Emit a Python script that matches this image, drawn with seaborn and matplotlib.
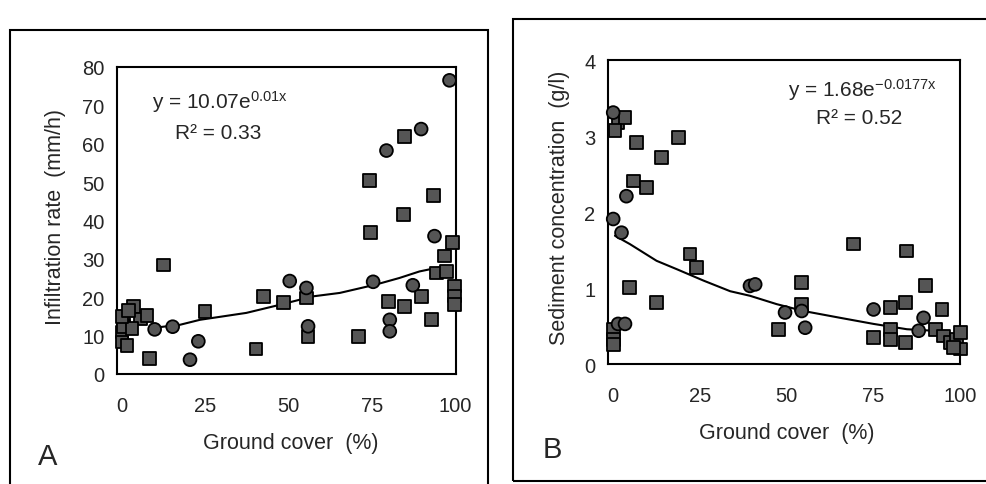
import matplotlib
matplotlib.use("Agg")
import matplotlib.pyplot as plt
from matplotlib.patches import Rectangle
import pandas as pd
import seaborn as sns

# ---- Panel A: infiltration rate vs ground cover ----
cover_a_sq = [84.7, 74.3, 93.4, 84.5, 74.5, 99.2, 96.7, 94.2, 97.2, 99.7, 99.7, 99.7,
              89.7, 79.8, 84.7, 92.7, 70.8, 55.3, 42.4, 48.4, 55.8, 40.2, 24.9, 12.5,
              8.2, 3.5, 5.5, 7.5, 0.5, 0.0, 0.0, 1.5, 0.5, 3.0, 0.0, 2.0]
infil_a_sq = [61.9, 50.3, 46.4, 41.6, 36.8, 34.2, 30.7, 26.3, 26.7, 22.9, 20.3, 18.1,
              20.1, 18.8, 17.6, 14.1, 9.8, 19.8, 20.2, 18.7, 9.8, 6.5, 16.3, 28.4,
              4.1, 17.6, 14.3, 15.2, 14.3, 10.9, 8.3, 7.3, 12.4, 11.9, 15.0, 16.5]
cover_a_ci = [98.2, 89.7, 79.3, 93.7, 75.3, 87.2, 80.3, 80.3, 50.3, 55.3, 55.8, 15.2,
              9.8, 22.9, 20.4]
infil_a_ci = [76.5, 63.8, 58.2, 35.9, 24.0, 23.1, 14.1, 11.1, 24.2, 22.4, 12.4, 12.3,
              11.6, 8.5, 3.7]
trend_a_x = [8.4, 17.4, 23.4, 37.3, 47.3, 57.2, 65.3, 76.2, 83.2, 89.2, 94.2, 99.0]
trend_a_y = [11.9, 12.8, 14.1, 15.9, 18.0, 20.2, 21.1, 23.3, 25.0, 26.7, 27.6, 28.0]

# ---- Panel B: sediment concentration vs ground cover ----
cover_b_sq = [1.4, 3.4, 0.5, 6.7, 18.8, 13.9, 5.8, 9.6, 22.1, 24.0, 4.8, 12.5, 69.2,
              84.6, 89.9, 54.3, 54.3, 47.6, 79.8, 84.1, 94.7, 75.0, 79.8, 79.8, 84.1,
              92.8, 95.2, 97.1, 98.8, 100.0, 100.0, 98.0, 0.0, 0.0, 0.0]
sed_b_sq = [3.18, 3.25, 3.07, 2.92, 2.98, 2.72, 2.41, 2.32, 1.45, 1.27, 1.01, 0.81, 1.58,
            1.49, 1.03, 1.07, 0.79, 0.46, 0.75, 0.81, 0.72, 0.35, 0.46, 0.33, 0.29,
            0.46, 0.37, 0.29, 0.33, 0.42, 0.20, 0.22, 0.46, 0.33, 0.26]
cover_b_ci = [0.0, 3.8, 0.0, 2.4, 39.4, 40.9, 54.3, 49.5, 55.3, 75.0, 89.4, 88.0, 1.4, 3.4]
sed_b_ci = [3.31, 2.21, 1.91, 1.73, 1.03, 1.05, 0.70, 0.68, 0.48, 0.72, 0.61, 0.44, 0.53, 0.53]
trend_b_x = [0.5, 4.8, 12.5, 18.3, 26.0, 33.7, 39.4, 47.1, 54.8, 65.4, 75.0, 84.6, 92.3, 98.8]
trend_b_y = [1.69, 1.58, 1.36, 1.25, 1.10, 0.96, 0.90, 0.79, 0.70, 0.61, 0.53, 0.46, 0.44, 0.37]

x_ticks = [0, 25, 50, 75, 100]


def points(xs_sq, ys_sq, xs_ci, ys_ci):
    return pd.DataFrame({
        "x": xs_sq + xs_ci,
        "y": ys_sq + ys_ci,
        "shape": ["square"] * len(xs_sq) + ["circle"] * len(xs_ci),
    })


def draw_panel(ax, df, tx, ty, ylim, yticks):
    sns.scatterplot(data=df, x="x", y="y", style="shape",
                    markers={"square": "s", "circle": "o"}, s=85,
                    color="#555555", edgecolor="black", linewidth=1.3,
                    legend=False, ax=ax, clip_on=False, zorder=3)
    sns.lineplot(x=tx, y=ty, color="black", linewidth=1.5, ax=ax, zorder=2)
    ax.set_xlim(-1.5, 100)
    ax.set_ylim(*ylim)
    ax.set_xticks(x_ticks)
    ax.set_yticks(yticks)
    ax.tick_params(direction="out", length=4, width=1.2, labelsize=14.5, color="black")
    ax.tick_params(axis="x", pad=12)
    ax.tick_params(axis="y", pad=5)
    for sp in ax.spines.values():
        sp.set_visible(True)
        sp.set_color("black")
        sp.set_linewidth(1.5)
    ax.set_xlabel("")
    ax.set_ylabel("")


sns.set_theme(style="white")
plt.rcParams["font.family"] = ["Liberation Sans", "DejaVu Sans"]
plt.rcParams["mathtext.default"] = "regular"

fig = plt.figure(figsize=(9.87, 4.85), dpi=100)

# outer frames of the two panels
fig.patches.append(Rectangle((0.010, -0.02), 0.484, 0.956, transform=fig.transFigure,
                             fill=False, edgecolor="black", linewidth=1.5))
fig.patches.append(Rectangle((0.520, 0.006), 0.49, 0.953, transform=fig.transFigure,
                             fill=False, edgecolor="black", linewidth=1.5))

ax_a = fig.add_axes([0.1185, 0.227, 0.343, 0.633])
draw_panel(ax_a, points(cover_a_sq, infil_a_sq, cover_a_ci, infil_a_ci),
           trend_a_x, trend_a_y, (0, 80), list(range(0, 81, 10)))
ax_a.text(9, 71, r"y = 10.07e$^{0.01x}$", fontsize=15, va="center")
ax_a.text(16, 63, "R² = 0.33", fontsize=15, va="center")

ax_b = fig.add_axes([0.616, 0.247, 0.357, 0.627])
draw_panel(ax_b, points(cover_b_sq, sed_b_sq, cover_b_ci, sed_b_ci),
           trend_b_x, trend_b_y, (0, 4), [0, 1, 2, 3, 4])
ax_b.text(0.51, 0.905, r"y = 1.68e$^{-0.0177x}$", transform=ax_b.transAxes,
          fontsize=15, va="center")
ax_b.text(0.59, 0.81, "R² = 0.52", transform=ax_b.transAxes, fontsize=15, va="center")

# axis labels and panel letters
fig.text(55 / 987, 1 - 217 / 485, "Infiltration rate  (mm/h)", rotation=90,
         ha="center", va="center", fontsize=15.5)
fig.text(291 / 987, 1 - 444 / 485, "Ground cover  (%)", ha="center", va="center", fontsize=15.5)
fig.text(38 / 987, 1 - 457 / 485, "A", ha="left", va="center", fontsize=21)

fig.text(560 / 987, 1 - 208 / 485, "Sediment concentration  (g/l)", rotation=90,
         ha="center", va="center", fontsize=15.5)
fig.text(787 / 987, 1 - 433 / 485, "Ground cover  (%)", ha="center", va="center", fontsize=15.5)
fig.text(543 / 987, 1 - 450 / 485, "B", ha="left", va="center", fontsize=21)

fig.savefig("out.png", dpi=100)
